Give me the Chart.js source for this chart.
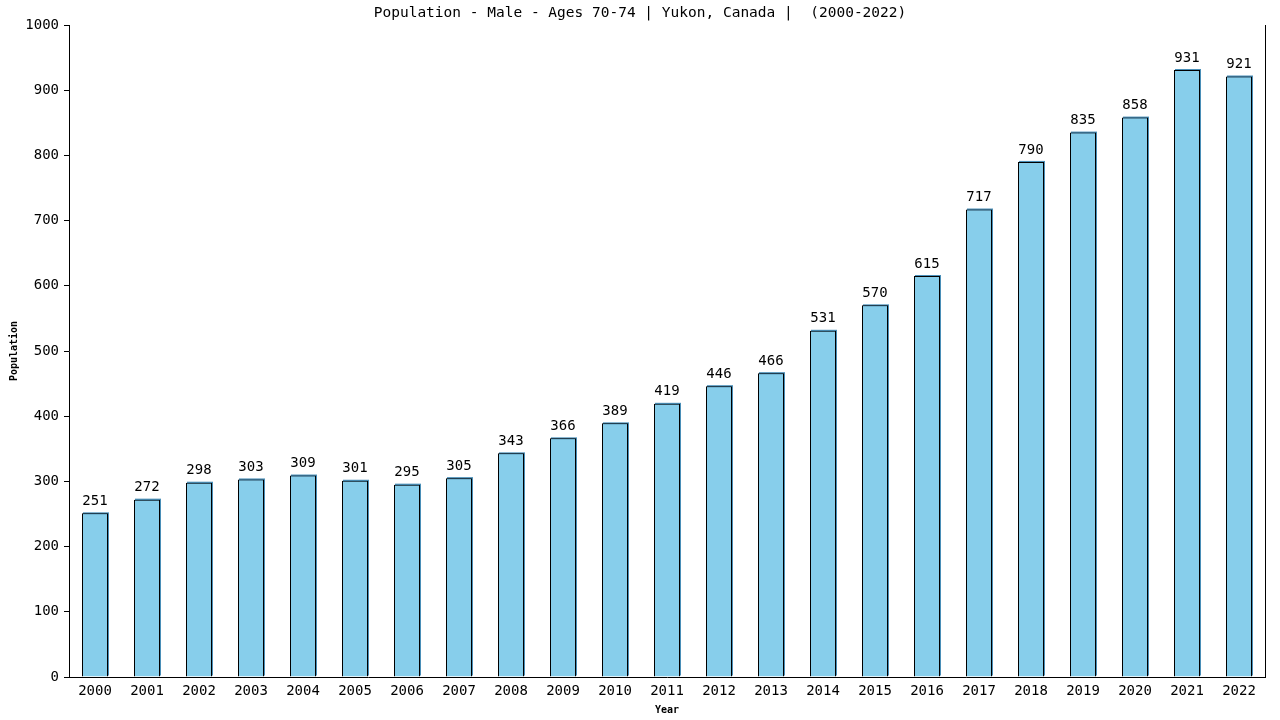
<!DOCTYPE html>
<html lang="en">
<head>
<meta charset="UTF-8">
<title>Population - Male - Ages 70-74 | Yukon, Canada</title>
<script src="https://cdn.jsdelivr.net/npm/chart.js"></script>
<style>
  html, body { margin: 0; padding: 0; background: #fff; }
  #wrap { width: 1280px; height: 720px; position: relative; }
</style>
</head>
<body>
<div id="wrap"><canvas id="popChart" width="1280" height="720"></canvas></div>
<script>
const years = ['2000','2001','2002','2003','2004','2005','2006','2007','2008','2009','2010','2011',
               '2012','2013','2014','2015','2016','2017','2018','2019','2020','2021','2022'];
const population = [251, 272, 298, 303, 309, 301, 295, 305, 343, 366, 389, 419,
                    446, 466, 531, 570, 615, 717, 790, 835, 858, 931, 921];
const chartTitle = 'Population - Male - Ages 70-74 | Yukon, Canada |  (2000-2022)';

const MONO = '"DejaVu Sans Mono", monospace';

// small steel-blue shadow behind each bar, like the original
const barShadow = {
  id: 'barShadow',
  beforeDatasetsDraw(chart) {
    const ctx = chart.ctx;
    ctx.save();
    ctx.fillStyle = '#4a8fb8';
    chart.getDatasetMeta(0).data.forEach(bar => {
      const w = bar.width;
      ctx.fillRect(bar.x - w / 2 + 1, bar.y - 1, w, bar.base - bar.y);
    });
    ctx.restore();
  }
};

// title, value labels and right border line
const extras = {
  id: 'extras',
  afterDatasetsDraw(chart) {
    const ctx = chart.ctx;
    const area = chart.chartArea;
    ctx.save();
    ctx.fillStyle = '#000';
    ctx.font = '14px ' + MONO;
    ctx.textAlign = 'center';
    ctx.textBaseline = 'bottom';
    chart.getDatasetMeta(0).data.forEach((bar, i) => {
      ctx.fillText(population[i], bar.x, bar.y - 5);
    });
    ctx.font = '14.5px ' + MONO;
    ctx.textBaseline = 'middle';
    ctx.fillText(chartTitle, 640, 13);
    ctx.strokeStyle = '#000';
    ctx.lineWidth = 1;
    ctx.beginPath();
    ctx.moveTo(area.right + 0.5, area.top);
    ctx.lineTo(area.right + 0.5, area.bottom);
    ctx.stroke();
    ctx.restore();
  }
};

new Chart(document.getElementById('popChart'), {
  type: 'bar',
  data: {
    labels: years,
    datasets: [{
      data: population,
      backgroundColor: '#87CEEB',
      borderColor: '#000',
      borderWidth: 1,
      barPercentage: 0.5,
      categoryPercentage: 1.0
    }]
  },
  options: {
    responsive: false,
    animation: false,
    layout: { padding: { top: 25, right: 15, left: 0, bottom: 0 } },
    plugins: {
      legend: { display: false },
      title: { display: false },
      tooltip: { enabled: false }
    },
    scales: {
      x: {
        offset: true,
        grid: { display: false },
        border: { color: '#000', width: 1 },
        ticks: { color: '#000', font: { family: MONO, size: 14 }, padding: -2, maxRotation: 0, autoSkip: false },
        title: { display: true, text: 'Year', color: '#000', font: { family: MONO, size: 10, weight: 'bold' }, padding: { top: 0, bottom: 4 } },
        afterFit(scale) { scale.height = 43; }
      },
      y: {
        min: 0,
        max: 1000,
        ticks: {
          stepSize: 100,
          color: '#000',
          font: { family: MONO, size: 14 },
          padding: 5,
          callback: v => String(v)
        },
        grid: { drawOnChartArea: false, drawTicks: true, tickLength: 5, color: '#000' },
        border: { color: '#000', width: 1 },
        title: { display: true, text: 'Population', color: '#000', font: { family: MONO, size: 10, weight: 'bold' }, padding: { top: 8, bottom: 0 } },
        afterFit(scale) { scale.width = 69; }
      }
    }
  },
  plugins: [barShadow, extras]
});
</script>
</body>
</html>
